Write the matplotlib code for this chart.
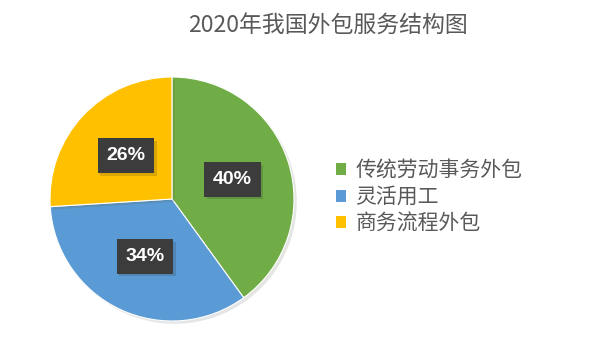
import matplotlib
matplotlib.use("Agg")
import matplotlib.pyplot as plt
from matplotlib.patches import Patch
import matplotlib.patheffects as pe

plt.rcParams["font.family"] = ["Noto Sans CJK SC", "DejaVu Sans"]

categories = ["传统劳动事务外包", "灵活用工", "商务流程外包"]
shares = [40, 34, 26]
colors = ["#70AD47", "#5B9BD5", "#FFC000"]
title = "2020年我国外包服务结构图"

W, H = 606, 354
fig = plt.figure(figsize=(W / 100, H / 100), dpi=100)
fig.patch.set_facecolor("white")

# pie centre ~ (172, 199) px, radius ~122 px
cx, cy, r = 172, 199, 122
ax = fig.add_axes([(cx - r) / W, (H - cy - r) / H, 2 * r / W, 2 * r / H])

wedges, texts, autotexts = ax.pie(
    shares,
    colors=colors,
    startangle=90,
    counterclock=False,
    autopct="%d%%",
    pctdistance=0.52,
    radius=1.0,
    wedgeprops=dict(edgecolor="white", linewidth=0.8),
)
for w in wedges:
    w.set_path_effects([pe.SimplePatchShadow(offset=(2, -2), alpha=0.12), pe.Normal()])
for t in autotexts:
    t.set_color("white")
    t.set_fontsize(14)
    t.set_fontweight("bold")
    t.set_family(["Liberation Sans"])
    t.set_bbox(dict(boxstyle="square,pad=0.45", facecolor="#3C3C3C", edgecolor="none",
                    path_effects=[pe.SimplePatchShadow(offset=(2, -2), alpha=0.15), pe.Normal()]))
ax.set_xlim(-1, 1)
ax.set_ylim(-1, 1)
ax.set_aspect("equal")
ax.axis("off")

fig.text(328 / W, 1 - 25 / H, title, ha="center", va="center",
         fontsize=16.5, color="#595959")

handles = [Patch(facecolor=c, edgecolor="none") for c in colors]
fig.legend(handles, categories, loc="center left",
           bbox_to_anchor=(317 / W, 1 - 197 / H), frameon=False,
           fontsize=15, labelcolor="#595959", handlelength=0.5, handleheight=0.5,
           handletextpad=0.45, labelspacing=0.22)

fig.savefig("out.png", dpi=100)
